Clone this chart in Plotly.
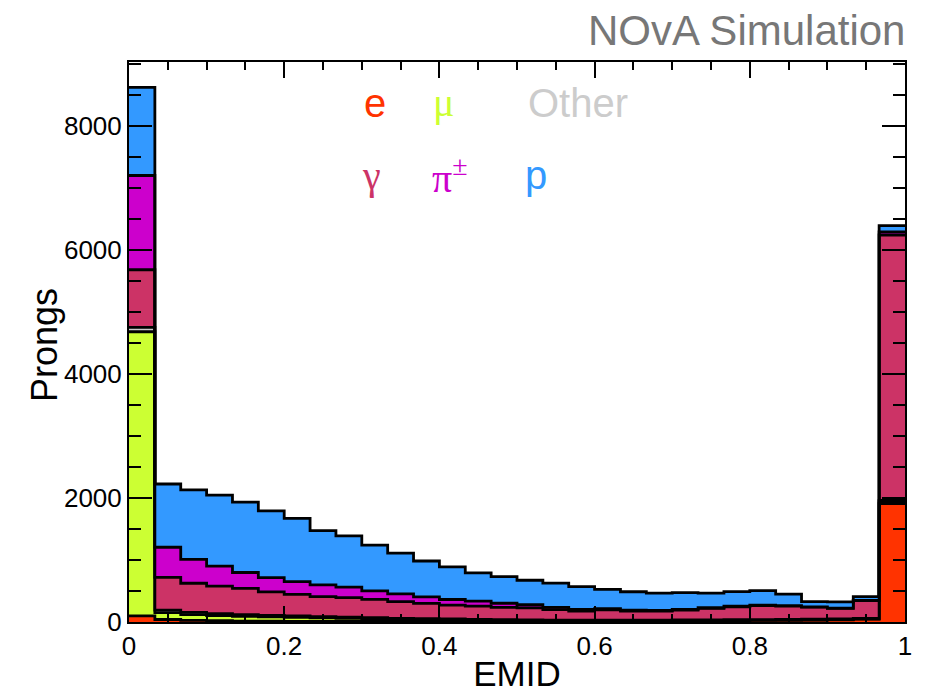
import numpy as np
import plotly.graph_objects as go

# EMID histogram: 30 bins from 0 to 1, stacked by true particle type
n_bins = 30
bin_edges = np.linspace(0.0, 1.0, n_bins + 1)

prongs_e = [100, 40, 25, 20, 15, 12, 10, 10, 10, 10, 10, 10, 10, 10, 10,
            10, 10, 12, 12, 14, 15, 18, 20, 22, 25, 28, 30, 35, 45, 1910]
prongs_mu = [4580, 110, 95, 85, 75, 70, 65, 55, 50, 45, 35, 30, 25, 20, 16,
             13, 11, 10, 9, 8, 8, 7, 7, 6, 6, 6, 6, 6, 6, 30]
prongs_other = [70, 40, 35, 30, 28, 25, 22, 20, 18, 16, 15, 14, 13, 12, 11,
                10, 10, 9, 9, 8, 8, 8, 8, 8, 8, 8, 8, 8, 8, 20]
prongs_gamma = [930, 530, 470, 445, 425, 380, 350, 325, 315, 295, 270, 245, 225, 215, 200,
                195, 170, 145, 165, 145, 145, 160, 185, 210, 225, 215, 195, 170, 285, 4280]
prongs_pi = [1520, 485, 385, 320, 255, 230, 205, 190, 170, 135, 125, 105, 90, 80, 65,
             50, 35, 28, 21, 18, 13, 11, 10, 8, 7, 6, 6, 6, 6, 50]
prongs_p = [1420, 1020, 1120, 1145, 1135, 1075, 1020, 875, 825, 740, 655, 580, 525, 455, 430,
            395, 390, 365, 310, 295, 275, 270, 235, 235, 235, 185, 85, 100, 60, 100]

components = [
    ("e", prongs_e, "#ff3300"),
    ("μ", prongs_mu, "#ccff33"),
    ("Other", prongs_other, "#cccccc"),
    ("γ", prongs_gamma, "#cc3366"),
    ("π±", prongs_pi, "#cc00cc"),
    ("p", prongs_p, "#3399ff"),
]

fig = go.Figure()
cum = np.zeros(n_bins)
for i, (name, vals, color) in enumerate(components):
    cum = cum + np.array(vals, dtype=float)
    y_step = np.append(cum, cum[-1])
    fig.add_trace(go.Scatter(
        x=bin_edges, y=y_step, mode="lines", line_shape="hv",
        line=dict(color="black", width=2.8),
        fill="tozeroy" if i == 0 else "tonexty",
        fillcolor=color, name=name, showlegend=False, hoverinfo="skip",
    ))

font_family = "Liberation Sans, Arial, Helvetica, sans-serif"
serif_family = "Liberation Serif, DejaVu Serif, serif"

# legend-like labels
labels = [
    ("e", 0.317, 0.927, "#ff3300", "center", font_family),
    ("μ", 0.405, 0.927, "#ccff33", "center", serif_family),
    ("Other", 0.511, 0.927, "#cccccc", "left", font_family),
    ("γ", 0.313, 0.798, "#cc3366", "center", serif_family),
    ("π<sup>±</sup>", 0.414, 0.798, "#cc00cc", "center", serif_family),
    ("p", 0.524, 0.798, "#3399ff", "center", font_family),
]
for txt, xx, yy, col, anc, fam in labels:
    fig.add_annotation(text=txt, x=xx, y=yy, xref="paper", yref="paper",
                       xanchor=anc, yanchor="middle", showarrow=False,
                       font=dict(size=40, color=col, family=fam))

fig.add_annotation(text="NOvA Simulation", x=1.0, y=1.0, xref="paper", yref="paper",
                   xanchor="right", yanchor="bottom", yshift=6, xshift=2, showarrow=False,
                   font=dict(size=42, color="#777777", family=font_family))

# y-axis title placed as rotated annotation
fig.add_annotation(text="Prongs", x=-0.108, y=0.495, xref="paper", yref="paper",
                   xanchor="center", yanchor="middle", textangle=-90, showarrow=False,
                   font=dict(size=36, color="black", family=font_family))

axis_common = dict(
    showline=True, linecolor="black", linewidth=2, mirror="allticks",
    ticks="inside", tickcolor="black", tickwidth=1.5,
    showgrid=False, zeroline=False, automargin=False,
    tickfont=dict(size=26, color="black", family=font_family),
)

fig.update_xaxes(range=[0, 1], tickvals=[0, 0.2, 0.4, 0.6, 0.8, 1.0],
                 ticktext=["0", "0.2", "0.4", "0.6", "0.8", "1"],
                 ticklen=16,
                 minor=dict(dtick=0.05, ticklen=8, ticks="inside", tickcolor="black", tickwidth=1.5),
                 title=dict(text="EMID", font=dict(size=35, color="black", family=font_family), standoff=6),
                 **axis_common)
fig.update_yaxes(range=[0, 9030], tickvals=[0, 2000, 4000, 6000, 8000],
                 ticklen=23,
                 minor=dict(dtick=500, ticklen=12, ticks="inside", tickcolor="black", tickwidth=1.5),
                 **axis_common)

fig.update_layout(
    width=930, height=693,
    margin=dict(l=129, r=25, t=62, b=71),
    plot_bgcolor="white", paper_bgcolor="white",
    showlegend=False,
)

fig.write_html("out.html")
